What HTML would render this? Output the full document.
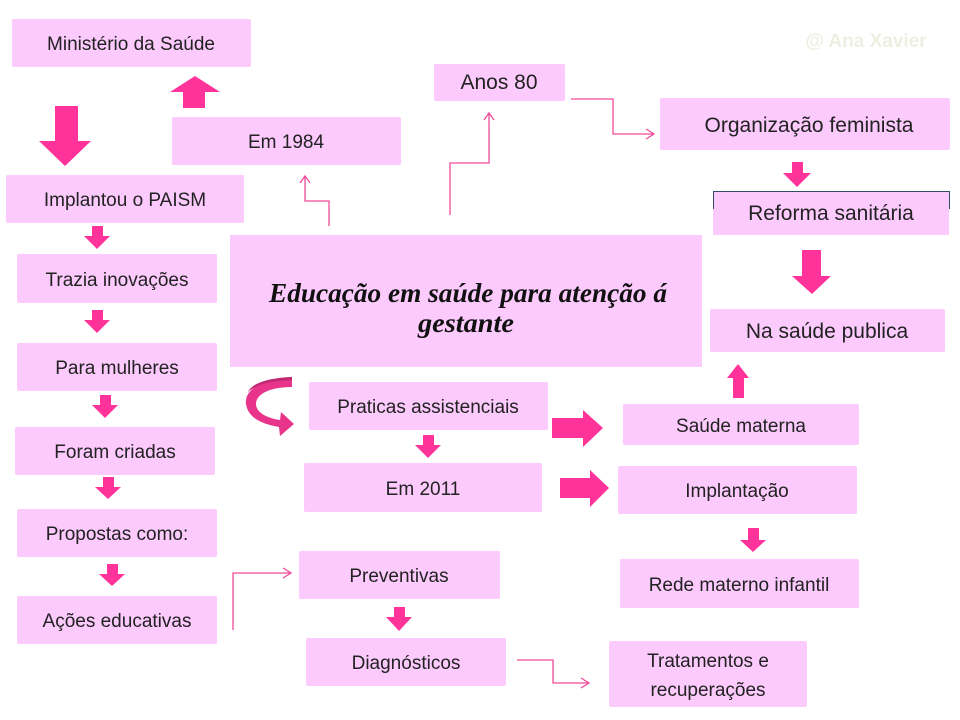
<!DOCTYPE html>
<html><head><meta charset="utf-8"><style>
html,body{margin:0;padding:0;background:#fff;width:960px;height:720px;overflow:hidden}
svg{display:block}
.t{font-family:"Liberation Sans",sans-serif;font-size:19px;fill:#222;text-anchor:middle;font-weight:300}
</style></head><body>
<svg width="960" height="720" viewBox="0 0 960 720" xmlns="http://www.w3.org/2000/svg">
<g fill="#fccafc">
<rect x="12" y="19" width="239" height="48" rx="2"/>
<rect x="172" y="117" width="229" height="48" rx="2"/>
<rect x="6" y="175" width="238" height="48" rx="2"/>
<rect x="17" y="254" width="200" height="49" rx="2"/>
<rect x="17" y="343" width="200" height="48" rx="2"/>
<rect x="15" y="427" width="200" height="48" rx="2"/>
<rect x="17" y="509" width="200" height="48" rx="2"/>
<rect x="17" y="596" width="200" height="48" rx="2"/>
<rect x="230" y="235" width="472" height="132"/>
<rect x="434" y="64" width="131" height="37" rx="2"/>
<rect x="660" y="98" width="290" height="52" rx="2"/>
<rect x="713" y="191" width="236" height="44"/>
<rect x="710" y="309" width="235" height="43" rx="2"/>
<rect x="623" y="404" width="236" height="41" rx="2"/>
<rect x="618" y="466" width="239" height="48" rx="2"/>
<rect x="620" y="559" width="239" height="49" rx="2"/>
<rect x="309" y="382" width="239" height="48" rx="2"/>
<rect x="304" y="463" width="238" height="49" rx="2"/>
<rect x="299" y="551" width="201" height="48" rx="2"/>
<rect x="306" y="638" width="200" height="48" rx="2"/>
<rect x="609" y="641" width="198" height="66" rx="2"/>
</g>
<path d="M713.5 209 V191.5 H949.5 V209" fill="none" stroke="#3a4a6a" stroke-width="1"/>
<g fill="#ff3399">
<!-- up arrow near Ministerio -->
<polygon points="183,108 205,108 205,92 220,92 195,76 170,92 183,92"/>
<!-- big down -->
<polygon points="55,106 78,106 78,141 91,141 65,166 39,141 55,141"/>
<!-- small downs left -->
<polygon points="92,226 103,226 103,236 110,236 97,249 84,236 92,236"/>
<polygon points="92,310 103,310 103,320 110,320 97,333 84,320 92,320"/>
<polygon points="100,395 111,395 111,405 118,405 105,418 92,405 100,405"/>
<polygon points="103,477 114,477 114,487 121,487 108,499 95,487 103,487"/>
<polygon points="107,564 118,564 118,574 125,574 112,586 99,574 107,574"/>
<!-- right side -->
<polygon points="792,162 803,162 803,173 811,173 797,187 783,173 792,173"/>
<polygon points="802,250 821,250 821,276 831,276 812,294 792,276 802,276"/>
<polygon points="733,398 744,398 744,378 749,378 738,364 727,378 733,378"/>
<polygon points="423,435 434,435 434,445 441,445 428,458 415,445 423,445"/>
<polygon points="394,607 405,607 405,617 412,617 399,631 386,617 394,617"/>
<polygon points="748,528 759,528 759,540 766,540 753,552 740,540 748,540"/>
<!-- right arrows -->
<polygon points="552,418 583,418 583,410 603,428 583,447 583,438 552,438"/>
<polygon points="560,478 590,478 590,470 609,488 590,507 590,498 560,498"/>
</g>
<!-- curved arrow -->
<path d="M292 377 C262 378 244 390 246 404 C248 418 262 424 279 427 L280 436 L294 424 L281 412 L280 420 C266 418 256 412 256 404 C256 394 270 387 292 387 Z" fill="#e8348a"/>
<path d="M292 377 C262 378 250 386 248 392 C256 384 272 381 292 380 Z" fill="#c02a74"/>
<!-- thin connectors -->
<g fill="none" stroke="#f04a9a" stroke-width="1.3">
<path d="M329 226 V201 H305 V176"/><path d="M300 183 L305 176 L310 183"/>
<path d="M450 215 V163 H489 V113"/><path d="M484 120 L489 113 L494 120"/>
<path d="M571 99 H613 V134 H654"/><path d="M646 129 L654 134 L646 139"/>
<path d="M233 630 V573 H291"/><path d="M283 568 L291 573 L283 578"/>
<path d="M517 660 H553 V683 H589"/><path d="M581 678 L589 683 L581 688"/>
</g>
<g class="t">
<text x="131" y="50">Ministério da Saúde</text>
<text x="286" y="148">Em 1984</text>
<text x="125" y="206">Implantou o PAISM</text>
<text x="117" y="286">Trazia inovações</text>
<text x="117" y="374">Para mulheres</text>
<text x="115" y="458">Foram criadas</text>
<text x="117" y="540">Propostas como:</text>
<text x="117" y="627">Ações educativas</text>
<text x="499" y="89" style="font-size:21px">Anos 80</text>
<text x="809" y="132" style="font-size:21px">Organização feminista</text>
<text x="831" y="220" style="font-size:21px">Reforma sanitária</text>
<text x="827" y="338" style="font-size:21px">Na saúde publica</text>
<text x="741" y="432">Saúde materna</text>
<text x="737" y="497">Implantação</text>
<text x="739" y="591">Rede materno infantil</text>
<text x="428" y="413">Praticas assistenciais</text>
<text x="423" y="495">Em 2011</text>
<text x="399" y="582">Preventivas</text>
<text x="406" y="669">Diagnósticos</text>
<text x="708" y="667">Tratamentos e</text>
<text x="708" y="696">recuperações</text>
</g>
<text x="468" y="302" text-anchor="middle" textLength="398" lengthAdjust="spacingAndGlyphs" style="font-family:'Liberation Serif',serif;font-style:italic;font-weight:bold;font-size:27px;fill:#111">Educação em saúde para atenção á</text>
<text x="466" y="332" text-anchor="middle" textLength="96" lengthAdjust="spacingAndGlyphs" style="font-family:'Liberation Serif',serif;font-style:italic;font-weight:bold;font-size:27px;fill:#111">gestante</text>
<text x="866" y="47" text-anchor="middle" style="font-family:'Liberation Sans',sans-serif;font-weight:bold;font-size:19px;fill:#efeee2">@ Ana Xavier</text>
</svg>
</body></html>
